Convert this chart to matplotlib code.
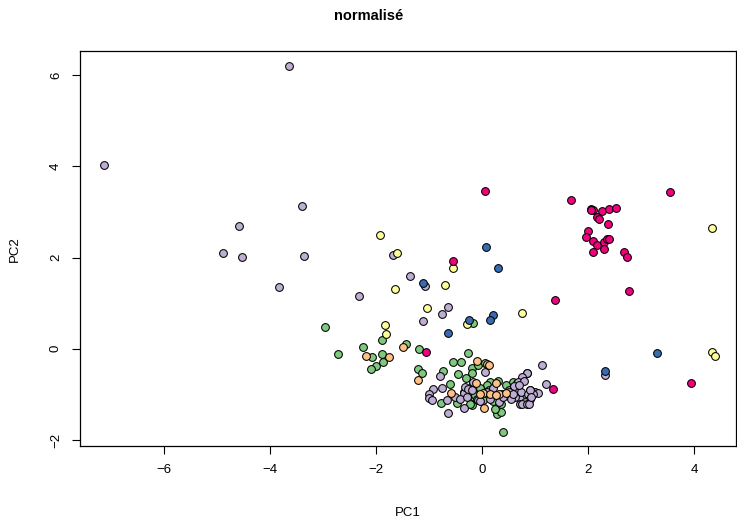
import matplotlib
matplotlib.use("Agg")
import matplotlib.pyplot as plt

plt.rcParams["font.family"] = ["Liberation Sans", "DejaVu Sans"]

# Accent palette (R RColorBrewer), one colour per class
couleurs = ["#7FC97F", "#BEAED4", "#FDC086", "#FFFF99", "#386CB0", "#F0027F"]

# classe 1 (vert)
x_c1 = [-2.96, -2.72, -2.24, -1.89, -1.90, -2.07, -2.01, -2.10, -1.87, -1.44,
        -1.20, -1.21, -1.14, -0.74, -0.55, -0.46, -0.26, -0.40, -0.19, -0.19,
        -0.78, -0.61, 0.40, 0.28, 0.35, 0.25, -0.18, -0.08, 0.05, 0.59,
        0.15, -0.17, -0.15, 0.02, -0.20, -0.47, -0.23, -0.13, 0.10, 0.45,
        0.25, 0.38, 0.55, 1.00, -0.05, 0.20, 0.65, -0.35, 0.30, 0.90,
        0.50, 0.70, -0.30, 0.12, 0.60, 0.80, -0.10, 0.35]
y_c1 = [0.47, -0.11, 0.04, 0.19, -0.12, -0.19, -0.37, -0.45, -0.29, 0.11,
        -0.01, -0.44, -0.53, -0.48, -0.29, -0.56, -0.09, -0.30, -0.42, -0.53,
        -1.19, -0.77, -1.83, -1.43, -1.38, -1.32, 0.57, -0.35, -0.31, -0.72,
        -0.72, -0.76, -1.05, -1.12, -1.23, -1.18, -1.20, -1.02, -0.80, -0.80,
        -1.05, -1.00, -1.05, -0.95, -0.85, -1.15, -0.75, -0.95, -0.70, -0.91,
        -0.90, -1.00, -0.65, -0.90, -0.85, -1.05, -1.10, -1.20]

# classe 2 (violet)
x_c2 = [-3.65, -7.13, -3.40, -4.59, -4.89, -4.54, -3.37, -3.83, -2.33, -1.68,
        -1.37, -1.07, -0.64, -0.75, -1.12, 1.13, 1.20, 2.31, 0.84, -0.79,
        -0.76, -0.92, -1.00, -1.00, -0.95, -0.51, -0.35, -0.32, -0.26, -0.20,
        -0.17, -0.42, -0.29, -0.67, -0.64, -0.35, -0.08, 0.05, 0.84, 0.75,
        0.68, 0.72, 0.51, 0.65, 0.74, 0.87, 1.06, 0.72, 0.91, 0.15,
        0.31, 0.81, 0.75, 0.85, 0.60, 0.95, 0.78, 0.90, 0.62, 0.55,
        -0.05, 0.10, 0.20, 0.40, 0.88, 0.70, 0.92, 0.58]
y_c2 = [6.20, 4.03, 3.14, 2.70, 2.11, 2.02, 2.03, 1.35, 1.15, 2.06,
        1.60, 1.37, 0.91, 0.76, 0.62, -0.36, -0.78, -0.58, -0.52, -0.60,
        -0.85, -0.87, -0.98, -1.07, -1.12, -1.05, -0.96, -0.83, -0.88, -0.91,
        -0.72, -1.11, -1.05, -1.12, -1.40, -1.29, -1.12, -0.50, -0.53, -0.61,
        -0.72, -1.09, -0.94, -0.87, -0.94, -0.98, -0.96, -1.20, -1.09, -1.10,
        -1.16, -1.16, -1.20, -1.22, -0.82, -1.00, -0.70, -0.90, -1.05, -1.10,
        -1.15, -0.95, -0.85, -1.05, -1.20, -0.80, -1.05, -0.98]

# classe 3 (orange)
x_c3 = [-1.50, -2.19, -1.75, -1.22, -0.10, 0.09, -0.12, 0.27, -0.59, 0.01,
        0.15, 0.31, 0.45, 0.04, 0.27, 0.12, -0.05]
y_c3 = [0.05, -0.15, -0.18, -0.68, -0.27, -0.34, -0.75, -0.76, -0.96, -0.96,
        -0.98, -0.98, -0.96, -1.29, -1.02, -0.36, -1.00]

# classe 5 (jaune)
x_c5 = [-1.92, -1.60, -1.65, -0.56, -0.70, -1.05, -1.83, -1.82, 0.76, -0.28,
        4.33, 4.34, 4.40]
y_c5 = [2.49, 2.11, 1.32, 1.76, 1.39, 0.89, 0.53, 0.32, 0.78, 0.55,
        2.65, -0.07, -0.15]

# classe 6 (bleu)
x_c6 = [-1.11, -0.64, -0.25, 0.07, 0.29, 0.21, 0.15, 3.30, 2.32]
y_c6 = [1.44, 0.34, 0.64, 2.24, 1.78, 0.74, 0.64, -0.09, -0.48]

# classe 7 (magenta)
x_c7 = [0.06, 1.68, 3.55, -0.56, -1.06, 1.38, 2.77, 1.33, 3.94,
        2.06, 2.09, 2.27, 2.40, 2.53, 2.16, 2.21, 2.37, 2.00, 1.96,
        2.10, 2.17, 2.29, 2.35, 2.39, 2.30, 2.10, 2.68, 2.74, 2.05]
y_c7 = [3.46, 3.27, 3.44, 1.93, -0.06, 1.07, 1.26, -0.88, -0.75,
        3.06, 3.04, 3.01, 3.07, 3.09, 2.88, 2.84, 2.73, 2.59, 2.45,
        2.37, 2.27, 2.33, 2.41, 2.40, 2.19, 2.12, 2.12, 2.02, 3.05]

series = [(x_c1, y_c1), (x_c2, y_c2), (x_c3, y_c3),
          (x_c5, y_c5), (x_c6, y_c6), (x_c7, y_c7)]

fig = plt.figure(figsize=(7.37, 5.18), dpi=100)
ax = fig.add_axes([80 / 737, 72 / 518, 656 / 737, 394.7 / 518])

for (xs, ys), c in zip(series, couleurs):
    ax.plot(xs, ys, "o", ms=5.6, mfc=c, mec="black", mew=0.75, ls="none")

ax.set_xlim(-7.59, 4.79)
ax.set_ylim(-2.13, 6.52)
ax.set_xticks([-6, -4, -2, 0, 2, 4])
ax.set_yticks([-2, 0, 2, 4, 6])
ax.tick_params(direction="out", length=6, width=0.8, labelsize=9.5, pad=7)
for lab in ax.get_yticklabels():
    lab.set_rotation(90)
    lab.set_va("center")
for s in ax.spines.values():
    s.set_linewidth(0.9)

ax.set_xlabel("PC1", fontsize=9.5, labelpad=22)
ax.set_ylabel("PC2", fontsize=9.5, labelpad=21)
fig.suptitle("normalisé", fontsize=10.5, fontweight="bold", y=0.982)

fig.savefig("out.png", dpi=100)
